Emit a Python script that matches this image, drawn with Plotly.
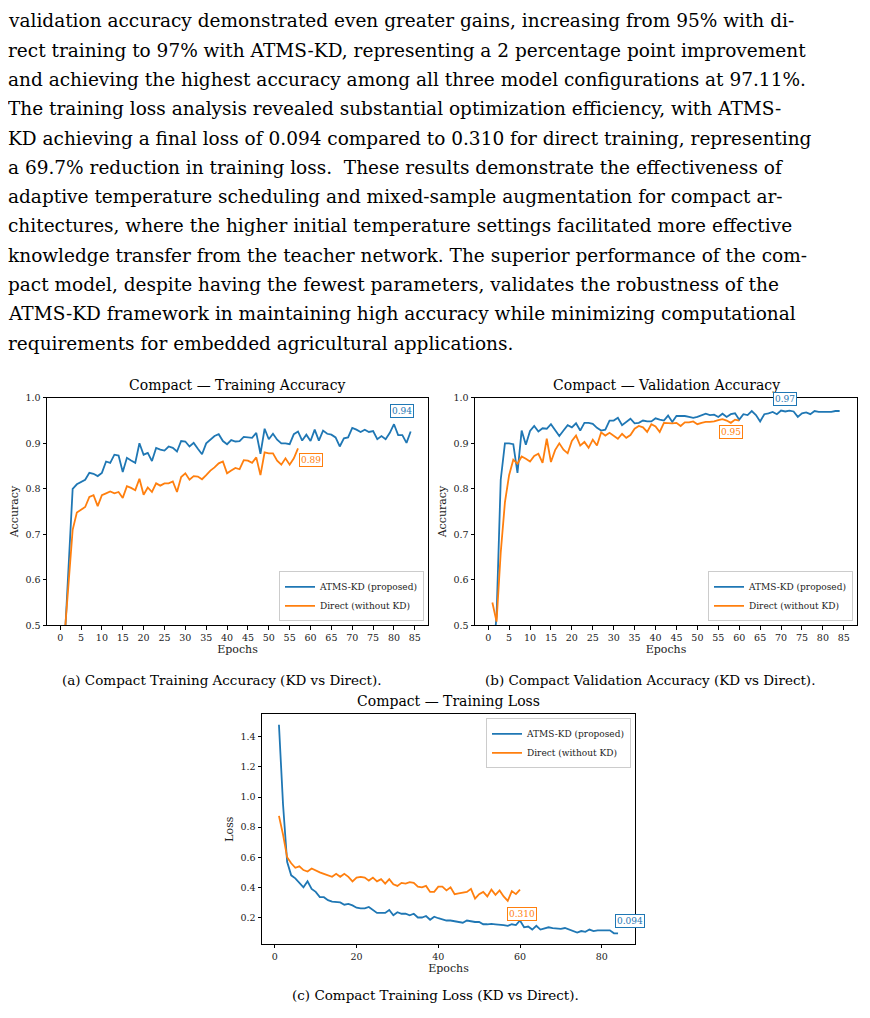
import plotly.graph_objects as go

W, H = 870, 1018
OFF = 8  # page body margin
BLUE, ORANGE = "#1f77b4", "#ff7f0e"
SERIF = "DejaVu Serif"
TEXTF = "DejaVu Serif"

paragraph = [
    "validation accuracy demonstrated even greater gains, increasing from 95% with di-",
    "rect training to 97% with ATMS-KD, representing a 2 percentage point improvement",
    "and achieving the highest accuracy among all three model configurations at 97.11%.",
    "The training loss analysis revealed substantial optimization efficiency, with ATMS-",
    "KD achieving a final loss of 0.094 compared to 0.310 for direct training, representing",
    "a 69.7% reduction in training loss.  These results demonstrate the effectiveness of",
    "adaptive temperature scheduling and mixed-sample augmentation for compact ar-",
    "chitectures, where the higher initial temperature settings facilitated more effective",
    "knowledge transfer from the teacher network. The superior performance of the com-",
    "pact model, despite having the fewest parameters, validates the robustness of the",
    "ATMS-KD framework in maintaining high accuracy while minimizing computational",
    "requirements for embedded agricultural applications.",
]

train_kd = [0.45, 0.62, 0.80, 0.81, 0.815, 0.82, 0.835, 0.833, 0.828, 0.835, 0.86, 0.857, 0.875, 0.873, 0.837,
            0.868, 0.862, 0.857, 0.90, 0.875, 0.879, 0.861, 0.89, 0.886, 0.884, 0.893, 0.89, 0.882, 0.905, 0.904,
            0.893, 0.901, 0.888, 0.876, 0.90, 0.907, 0.916, 0.92, 0.905, 0.898, 0.907, 0.904, 0.905, 0.914, 0.913,
            0.912, 0.923, 0.877, 0.932, 0.909, 0.921, 0.908, 0.90, 0.90, 0.898, 0.92, 0.926, 0.906, 0.919, 0.905,
            0.93, 0.906, 0.928, 0.921, 0.919, 0.913, 0.893, 0.911, 0.913, 0.934, 0.93, 0.925, 0.93, 0.925, 0.927,
            0.909, 0.916, 0.909, 0.923, 0.942, 0.918, 0.918, 0.901, 0.926]
train_direct = [0.47, 0.60, 0.71, 0.748, 0.755, 0.76, 0.782, 0.786, 0.762, 0.786, 0.79, 0.794, 0.79, 0.793, 0.78,
                0.806, 0.802, 0.797, 0.822, 0.787, 0.803, 0.793, 0.812, 0.807, 0.812, 0.812, 0.816, 0.793, 0.826,
                0.834, 0.82, 0.828, 0.827, 0.821, 0.83, 0.84, 0.847, 0.856, 0.86, 0.834, 0.84, 0.846, 0.843, 0.863,
                0.862, 0.857, 0.869, 0.83, 0.88, 0.878, 0.878, 0.862, 0.853, 0.867, 0.853, 0.867, 0.889]
val_kd = [0.42, 0.52, 0.82, 0.90, 0.90, 0.898, 0.835, 0.928, 0.897, 0.927, 0.938, 0.926, 0.933, 0.932, 0.942, 0.93,
          0.916, 0.928, 0.94, 0.935, 0.944, 0.928, 0.945, 0.945, 0.943, 0.934, 0.928, 0.93, 0.95, 0.95, 0.956,
          0.94, 0.947, 0.954, 0.944, 0.945, 0.95, 0.948, 0.948, 0.955, 0.952, 0.95, 0.961, 0.947, 0.96, 0.96, 0.96,
          0.958, 0.956, 0.958, 0.962, 0.965, 0.962, 0.963, 0.958, 0.965, 0.958, 0.964, 0.966, 0.952, 0.964, 0.962,
          0.971, 0.962, 0.948, 0.964, 0.966, 0.969, 0.964, 0.972, 0.97, 0.972, 0.97, 0.958, 0.966, 0.968, 0.964,
          0.971, 0.969, 0.969, 0.969, 0.969, 0.971, 0.971]
val_direct = [0.55, 0.508, 0.66, 0.77, 0.83, 0.864, 0.855, 0.871, 0.866, 0.86, 0.872, 0.877, 0.857, 0.91, 0.859,
              0.885, 0.90, 0.886, 0.878, 0.905, 0.917, 0.895, 0.903, 0.89, 0.908, 0.895, 0.924, 0.917, 0.923, 0.917,
              0.91, 0.921, 0.912, 0.918, 0.932, 0.938, 0.935, 0.925, 0.942, 0.937, 0.925, 0.945, 0.944, 0.944, 0.945,
              0.938, 0.946, 0.946, 0.948, 0.942, 0.945, 0.947, 0.947, 0.948, 0.951, 0.953, 0.95, 0.945, 0.952, 0.95]
loss_kd = [1.48, 0.95, 0.57, 0.48, 0.46, 0.43, 0.40, 0.44, 0.39, 0.37, 0.335, 0.335, 0.315, 0.305, 0.30, 0.30,
           0.285, 0.29, 0.28, 0.265, 0.26, 0.26, 0.27, 0.25, 0.23, 0.23, 0.23, 0.25, 0.215, 0.235, 0.225, 0.225,
           0.215, 0.225, 0.20, 0.20, 0.21, 0.185, 0.205, 0.195, 0.185, 0.18, 0.18, 0.175, 0.17, 0.165, 0.18, 0.175,
           0.17, 0.17, 0.155, 0.155, 0.158, 0.155, 0.155, 0.15, 0.145, 0.155, 0.15, 0.18, 0.135, 0.14, 0.12, 0.145,
           0.12, 0.125, 0.135, 0.13, 0.125, 0.125, 0.13, 0.12, 0.11, 0.10, 0.11, 0.105, 0.12, 0.11, 0.115, 0.115,
           0.115, 0.115, 0.095, 0.094]
loss_direct = [0.875, 0.75, 0.60, 0.56, 0.53, 0.54, 0.515, 0.505, 0.525, 0.51, 0.50, 0.49, 0.48, 0.47, 0.49, 0.47,
               0.49, 0.47, 0.44, 0.465, 0.47, 0.465, 0.445, 0.465, 0.44, 0.455, 0.425, 0.455, 0.42, 0.41, 0.43,
               0.425, 0.435, 0.43, 0.405, 0.40, 0.41, 0.37, 0.37, 0.405, 0.405, 0.38, 0.40, 0.355, 0.36, 0.365,
               0.37, 0.39, 0.325, 0.355, 0.37, 0.34, 0.385, 0.35, 0.38, 0.34, 0.31, 0.375, 0.355, 0.385]

titles = ["Compact — Training Accuracy", "Compact — Validation Accuracy", "Compact — Training Loss"]
captions = ["(a) Compact Training Accuracy (KD vs Direct).", "(b) Compact Validation Accuracy (KD vs Direct).",
            "(c) Compact Training Loss (KD vs Direct)."]
labels = ["ATMS-KD (proposed)", "Direct (without KD)"]

boxes = [(47, 428, 396, 626), (475, 857, 396, 626), (262, 635, 716, 948)]


def px(x):
    return (x - OFF) / W


def py(y):
    return 1 - (y - OFF) / H


fig = go.Figure()
datasets = [(train_kd, train_direct), (val_kd, val_direct), (loss_kd, loss_direct)]
for i, (kd, di) in enumerate(datasets):
    ax = "" if i == 0 else str(i + 1)
    leg = "legend" if i == 0 else f"legend{i+1}"
    for ys, col, lab in [(kd, BLUE, labels[0]), (di, ORANGE, labels[1])]:
        fig.add_trace(go.Scatter(x=list(range(1, len(ys) + 1)), y=ys, mode="lines", name=lab,
                                 line=dict(color=col, width=1.8), xaxis="x" + ax, yaxis="y" + ax,
                                 legend=leg))

axis_common = dict(showline=True, linecolor="black", linewidth=1, mirror=True, ticks="outside",
                   ticklen=3.5, tickcolor="black", showgrid=False, zeroline=False,
                   tickfont=dict(family=SERIF, size=9.5, color="#222"))
lay = {}
for i, (l, r, t, b) in enumerate(boxes):
    ax = "" if i == 0 else str(i + 1)
    xd = [px(l), px(r)]
    yd = [py(b), py(t)]
    xa = dict(axis_common, domain=xd, range=[-3.15, 88.15], anchor="y" + ax,
              title=dict(text="Epochs", font=dict(family=SERIF, size=11, color="#222"), standoff=2))
    if i < 2:
        xa.update(tickmode="linear", tick0=0, dtick=5)
        ya = dict(axis_common, domain=yd, range=[0.5, 1.0], tickmode="linear", tick0=0.5, dtick=0.1,
                  tickformat=".1f", anchor="x" + ax,
                  title=dict(text="Accuracy", font=dict(family=SERIF, size=11, color="#222"), standoff=4))
    else:
        xa.update(tickmode="linear", tick0=0, dtick=20)
        ya = dict(axis_common, domain=yd, range=[0.025, 1.549], tickmode="linear", tick0=0.2, dtick=0.2,
                  tickformat=".1f", anchor="x" + ax,
                  title=dict(text="Loss", font=dict(family=SERIF, size=11, color="#222"), standoff=4))
    lay["xaxis" + ax] = xa
    lay["yaxis" + ax] = ya
    legname = "legend" if i == 0 else f"legend{i+1}"
    common_leg = dict(bgcolor="white", bordercolor="#cccccc", borderwidth=1,
                      font=dict(family=SERIF, size=9, color="#222"), tracegroupgap=0, itemwidth=30)
    if i < 2:
        lay[legname] = dict(common_leg, x=px(r - 4), y=py(b - 4), xanchor="right", yanchor="bottom")
    else:
        lay[legname] = dict(common_leg, x=px(r - 4), y=py(t + 4), xanchor="right", yanchor="top")

fig.update_layout(width=W, height=H, margin=dict(l=0, r=0, t=0, b=0), plot_bgcolor="white",
                  paper_bgcolor="white", showlegend=True, **lay)

ann = []
for k, line in enumerate(paragraph):
    ann.append(dict(text=line, x=px(6), y=py(15 + k * 29.6), xref="paper", yref="paper",
                    xanchor="left", yanchor="middle", showarrow=False,
                    font=dict(family=TEXTF, size=18.5, color="black")))
for i, (l, r, t, b) in enumerate(boxes):
    ann.append(dict(text=titles[i], x=px((l + r) / 2), y=py(t - 3), xref="paper", yref="paper",
                    xanchor="center", yanchor="bottom", showarrow=False,
                    font=dict(family=SERIF, size=14, color="black")))
cap_pos = [(222, 681), (650, 681), (435, 1000)]
for c, (cx, cy) in zip(captions, cap_pos):
    ann.append(dict(text=c, x=px(cx), y=py(cy), xref="paper", yref="paper", xanchor="center",
                    yanchor="middle", showarrow=False, font=dict(family=TEXTF, size=13.5, color="black")))

vlabels = [("", 82, 0.97, "0.94", BLUE), ("", 60.2, 0.864, "0.89", ORANGE),
           ("2", 71, 0.998, "0.97", BLUE), ("2", 58, 0.925, "0.95", ORANGE),
           ("3", 60.5, 0.225, "0.310", ORANGE), ("3", 87, 0.175, "0.094", BLUE)]
for ax, x, y, t, col in vlabels:
    ann.append(dict(text=t, x=x, y=y, xref="x" + ax, yref="y" + ax, showarrow=False,
                    font=dict(family=SERIF, size=9, color=col), bgcolor="white", bordercolor=col,
                    borderwidth=1, borderpad=1))
fig.update_layout(annotations=ann)

fig.write_html("out.html")
